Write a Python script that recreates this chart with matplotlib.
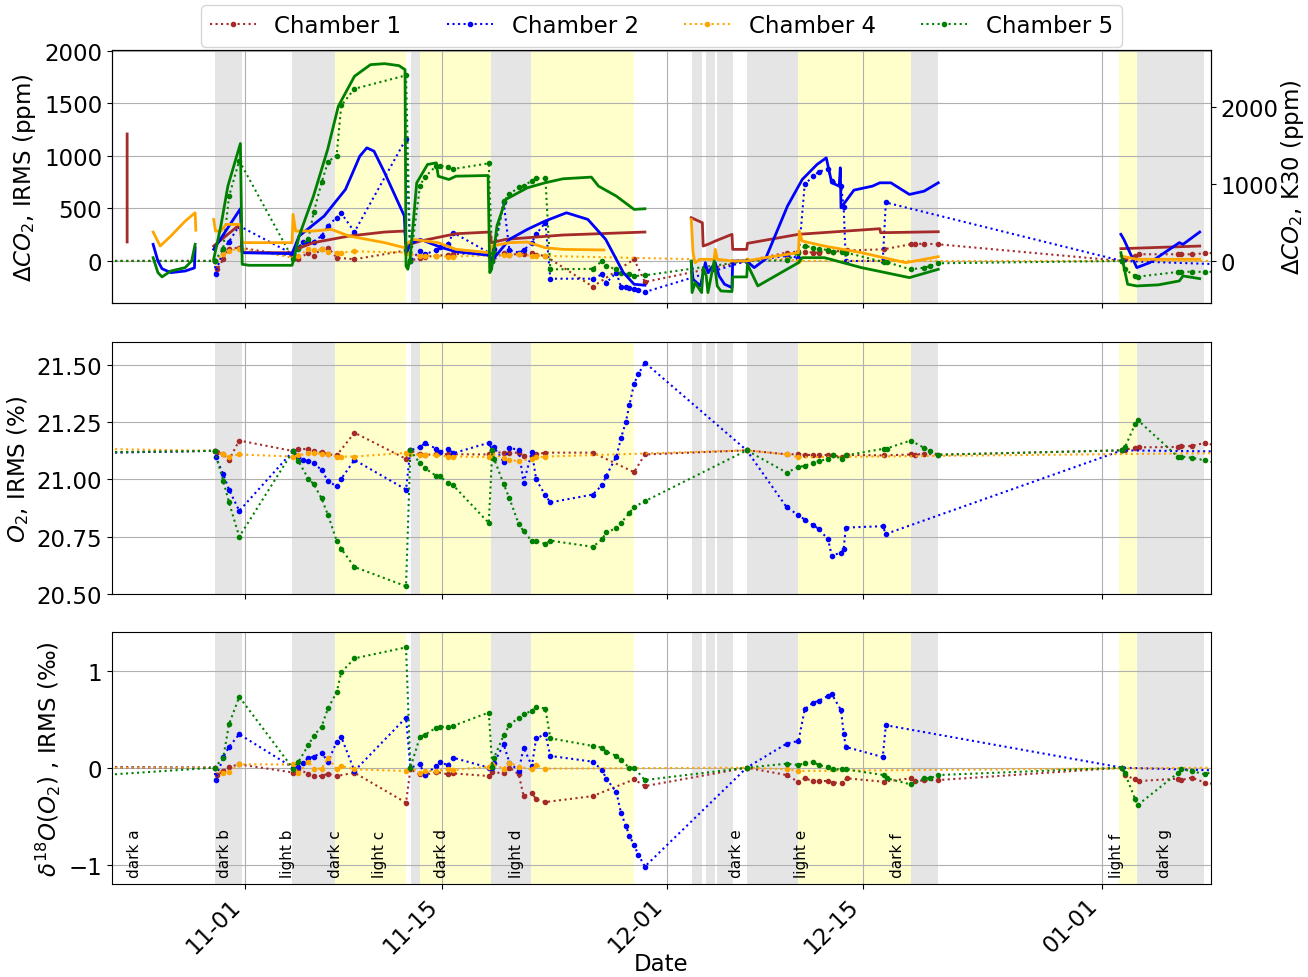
import numpy as np
import matplotlib
matplotlib.use("Agg")
import matplotlib.pyplot as plt
import matplotlib.dates as mdates
from datetime import datetime

nan = np.nan

# days counted from 2019-11-01
start = datetime(2019, 11, 1)

# ---- IRMS samples -------------------------------------------------------
# chamber 1
c1_days = [-12, -2.16, -1.98, -1.55, -1.14, -0.41,
           3.42, 3.80, 4.51, 4.89, 5.45, 5.91, 6.52, 7.79, 11.46,
           11.77, 12.45, 12.78, 13.62, 14.46, 14.81, 17.35,
           17.60, 18.41, 18.82, 19.48, 19.83, 20.42, 20.72, 21.38, 24.75, 27.69, 28.46,
           35.71, 38.55, 39.39, 39.84, 40.45, 40.84, 41.50, 41.82, 42.50, 42.82, 45.45, 47.37, 47.68, 48.34, 49.34,
           62.42, 62.63, 63.34, 63.61, 66.37, 66.63, 67.37, 68.34, 69.5]
c1_co2 = [0, 0, -80, 16, 118, 127,
          48, 16, 80, 48, 118, 127, 32, 16, 100,
          0, 32, 41, 48, 60, 64, 80,
          0, 80, 54, 70, 64, 80, 60, 48, -245, 16, -200,
          0, 80, 89, 89, 80, 80, 96, 90, 96, 100, 111, 159, 160, 165, 159,
          0, 16, 48, 64, 64, 64, 64, 73, 80]
c1_o2 = [21.115, 21.125, 21.12, 21.109, 21.085, 21.17,
         21.124, 21.133, 21.133, 21.125, 21.118, 21.11, 21.105, 21.204, 21.09,
         21.127, 21.109, 21.108, 21.109, 21.11, 21.11, 21.109,
         21.124, 21.114, 21.117, 21.117, 21.103, 21.103, 21.11, 21.117, 21.117, 21.032, 21.109,
         21.127, 21.11, 21.11, 21.107, 21.107, 21.107, 21.107, 21.105, 21.1, 21.107, 21.105, 21.109, 21.108, 21.112, 21.108,
         21.127, 21.13, 21.138, 21.14, 21.142, 21.144, 21.146, 21.16, 21.14]
c1_d18o = [0.01, 0, -0.079, -0.034, 0.007, 0.034,
           -0.05, -0.017, -0.062, -0.086, -0.086, -0.062, -0.086, -0.052, -0.362,
           -0.017, -0.069, -0.076, -0.045, -0.069, -0.059, -0.086,
           -0.045, -0.059, 0.0, -0.069, -0.293, -0.259, -0.328, -0.355, -0.293, -0.121, -0.19,
           0, -0.076, -0.148, -0.110, -0.138, -0.138, -0.138, -0.155, -0.155, -0.110, -0.145, -0.110, -0.138, -0.131, -0.128,
           0, -0.076, -0.121, -0.138, -0.114, -0.128, -0.103, -0.155, -0.18]

# chamber 2
c2_days = [-12, -2.16, -2.10, -1.55, -1.14, -0.41,
           3.42, 3.80, 4.11, 4.51, 4.89, 5.45, 5.91, 6.52, 6.85, 7.79, 11.46,
           11.77, 12.45, 12.78, 13.62, 13.87, 14.46, 14.81, 17.35,
           17.60, 17.73, 18.41, 18.82, 19.48, 19.83, 20.42, 20.72, 21.38, 21.73, 24.75, 25.41, 25.72, 26.43,
           26.76, 27.10, 27.36, 27.69, 28.00, 28.46,
           35.71, 38.55, 39.39, 39.84, 40.45, 40.84, 41.50, 41.76, 42.42, 42.61, 42.76, 45.39, 45.61,
           62.42, 69.5]
c2_co2 = [0, 0, -121, 111, 185, 334,
          64, 127, 180, 185, 185, 239, 334, 414, 455, 277, 1162,
          0, 96, 64, 102, 130, 159, 271, 80,
          0, 111, 557, 102, 80, 102, 175, 255, 366, -169, -169, -127, -207, -111,
          -245, -250, -255, -264, -275, -296,
          0, 48, 32, 733, 806, 850, 876, 764, 717, 510, 0, 0, 557,
          0, -32]
c2_o2 = [21.115, 21.125, 21.10, 21.022, 20.956, 20.863,
         21.124, 21.10, 21.083, 21.08, 21.073, 21.04, 20.993, 20.97, 21.003, 21.085, 20.956,
         21.127, 21.141, 21.157, 21.135, 21.12, 21.135, 21.114, 21.16,
         21.127, 21.14, 21.077, 21.137, 21.13, 20.985, 21.12, 21.0, 20.93, 20.90, 20.934, 20.975, 21.017, 21.10,
         21.18, 21.25, 21.325, 21.418, 21.46, 21.51,
         21.127, 20.879, 20.844, 20.825, 20.80, 20.784, 20.738, 20.668, 20.68, 20.697, 20.79, 20.796, 20.762,
         21.127, 21.122]
c2_d18o = [0.0, 0, -0.128, 0.11, 0.214, 0.345,
           0, 0.01, 0.05, 0.097, 0.114, 0.155, 0.059, 0.266, 0.317, -0.034, 0.517,
           0, 0.034, -0.076, 0.017, 0.059, 0.024, 0.103, 0,
           0, 0.052, 0.241, 0.052, -0.034, 0.207, 0.017, 0.303, 0.345, 0.121, 0.062, -0.024, -0.114, -0.252,
           -0.466, -0.60, -0.70, -0.80, -0.90, -1.02,
           0, 0.248, 0.276, 0.603, 0.672, 0.69, 0.741, 0.759, 0.593, 0.352, 0.214, 0.11, 0.438,
           0, -0.03]

# chamber 4
c4_days = [-12, -2.16, -1.55, -1.14, -0.41,
           3.42, 3.80, 4.51, 4.89, 5.45, 5.91, 6.52, 6.85, 7.79, 11.46,
           11.77, 12.45, 12.78, 13.62, 14.46, 14.81, 17.35,
           17.60, 18.41, 18.82, 19.48, 20.42, 20.72, 21.38,
           35.71, 38.55, 39.39,
           69.5]
c4_co2 = [0, 0, 64, 96, 118,
          32, 50, 111, 100, 111, 90, 80, 80, 92, 80,
          64, 48, 50, 48, 41, 41, 54,
          54, 54, 54, 64, 48, 50, 48,
          6, 16, 0,
          0]
c4_o2 = [21.135, 21.125, 21.109, 21.10, 21.109,
         21.10, 21.105, 21.114, 21.114, 21.112, 21.112, 21.10, 21.10, 21.10, 21.116,
         21.109, 21.108, 21.108, 21.106, 21.10, 21.10, 21.098,
         21.109, 21.095, 21.085, 21.08, 21.091, 21.097, 21.1,
         21.127, 21.109, 21.097,
         21.115]
c4_d18o = [0.0, 0, -0.059, -0.041, 0.034,
           0.034, -0.059, 0.059, -0.01, -0.01, 0.10, -0.017, 0.017, -0.017, -0.034,
           0, -0.052, -0.034, -0.034, -0.017, -0.024, 0.01,
           0.034, -0.01, 0.052, 0.01, -0.017, 0.024, -0.01,
           0, -0.017, -0.034,
           0.0]

# chamber 5
c5_days = [-12, -2.16, -1.55, -1.14, -0.41,
           3.42, 3.80, 4.51, 4.89, 5.45, 5.91, 6.52, 6.85, 7.79, 11.46,
           11.77, 12.45, 12.78, 13.62, 13.87, 14.46, 14.81, 17.35,
           17.60, 17.73, 18.41, 18.82, 19.48, 19.83, 20.42, 20.72, 21.38, 21.73, 24.75, 25.41, 25.72, 26.43,
           26.76, 27.36, 27.69, 28.46,
           35.71, 38.55, 39.39, 39.84, 40.45, 40.84, 41.50, 41.82, 42.50, 42.76, 45.45, 45.66, 47.37, 48.34,
           48.74, 49.34,
           62.42, 62.63, 63.34, 63.53, 66.37, 66.63, 67.37, 68.34, 69.2]
c5_co2 = [0, 0, 118, 615, 955,
          16, 118, 213, 462, 748, 946, 1003, 1481, 1640, 1768,
          0, 717, 796, 908, 905, 898, 876, 930,
          0, 80, 567, 637, 700, 717, 764, 787, 787, -80, -75, 0, -48, -80,
          -111, -127, -143, -137,
          0, 6, 80, 143, 127, 118, 102, 90, 85, 80, -10, -10, -80, -64,
          -48, -22,
          0, -80, -143, -150, -105, -105, -102, -105, -100]
c5_o2 = [21.117, 21.125, 20.994, 20.90, 20.75,
         21.124, 21.08, 21.003, 20.98, 20.917, 20.844, 20.733, 20.697, 20.618, 20.534,
         21.127, 21.07, 21.05, 21.015, 21.013, 20.985, 20.975, 20.81,
         21.127, 21.09, 20.98, 20.917, 20.806, 20.774, 20.73, 20.73, 20.719, 20.733, 20.706, 20.738, 20.771, 20.786,
         20.81, 20.854, 20.88, 20.905,
         21.127, 21.03, 21.054, 21.06, 21.073, 21.08, 21.09, 21.105, 21.09, 21.105, 21.134, 21.135, 21.17, 21.138,
         21.124, 21.108,
         21.127, 21.14, 21.24, 21.26, 21.10, 21.10, 21.095, 21.083, 21.07]
c5_d18o = [-0.094, 0, 0.103, 0.448, 0.731,
           -0.01, 0.059, 0.234, 0.328, 0.424, 0.614, 0.776, 0.983, 1.128, 1.241,
           0, 0.317, 0.338, 0.414, 0.42, 0.424, 0.431, 0.569,
           0.01, 0.103, 0.334, 0.438, 0.517, 0.552, 0.586, 0.628, 0.61, 0.303, 0.224, 0.207, 0.166, 0.121,
           0.076, 0.0, 0.0, -0.128,
           0, 0.041, 0.028, 0.045, 0.062, 0.024, 0.01, -0.017, -0.017, -0.017, -0.076, -0.11, -0.172, -0.110,
           -0.110, -0.076,
           0, -0.059, -0.32, -0.386, -0.059, -0.017, -0.034, -0.069, -0.02]

# ---- K30 sensors (nan = gap) --------------------------------------------
k1_days = [-8.39, -8.39, nan,
           -2.23, -1.2, -0.33, -0.20, 3.35, 3.47, 4.87, 7.41, 9.94, 11.39, 11.46, 11.72, 12.48, 15.01,
           17.42, 17.55, 18.56, 20.09, 22.62, 25.16, 28.46, nan,
           31.76, 32.55, 32.61, 33.0, 33.47, 34.66, 34.71, 35.71, 35.76, 39.39, 45.18, 45.24, 49.34, nan,
           62.34, 67.95]
k1_co2 = [1649, 247, nan,
          194, 350, 480, 108, 108, 140, 238, 324, 376, 389, 170, 216, 259, 354,
          376, 238, 281, 302, 337, 354, 376, nan,
          562, 497, 194, 220, 259, 346, 151, 151, 229, 346, 419, 367, 380, nan,
          160, 194]

k2_days = [-6.54, -6.2, -5.91, -5.28, -4.26, -3.6, -3.55, nan,
           -2.23, -0.33, -0.20, 3.35, 3.85, 5.63, 7.15, 8.17, 8.67, 9.18, 9.94, 11.34, 11.46, 11.84,
           12.48, 14.00, 15.01, 17.42, 17.55, 18.82, 20.09, 21.35, 22.88, 24.40, 25.67, 26.93, 27.69, 28.46, nan,
           31.76, 31.89, 32.42, 32.76, 32.95, 33.47, 33.74, 34.13, 34.66, 34.71, 35.71, 36.24, 37.03, 38.61,
           39.66, 40.71, 41.37, 41.76, 42.29, 42.37, 42.42, 43.34, 44.66, 45.18, 45.97, 47.29, 48.34, 49.34, nan,
           62.34, 62.55, 63.47, 64.39, 66.50, 66.76, 67.95]
k2_co2 = [216, 0, -100, -151, -130, -90, 173, nan,
          151, 678, 108, 95, 324, 583, 929, 1361, 1469, 1426, 1145, 583, 108, 229,
          281, 173, 121, 73, 0, 281, 410, 518, 626, 540, 281, -151, -302, -315, nan,
          -9, -238, -324, -22, -151, -22, -194, -302, -346, 0, 0, -86, 22, 713,
          1058, 1253, 1339, 1015, 972, 1210, 691, 920, 972, 1015, 1015, 864, 907, 1015, nan,
          346, 281, -86, -22, 238, 216, 376]

k4_days = [-6.54, -6.04, -5.28, -4.26, -3.55, -3.50, nan,
           -2.23, -2.10, -1.72, -1.34, -0.33, -0.20, 3.35, 3.42, 3.60, 4.87, 6.14, 7.41, 9.94, 11.34, 11.46,
           11.97, 13.75, 15.01, 17.42, 17.55, 18.82, 20.09, 21.35, 22.62, 25.54, nan,
           31.76, 31.89, 32.03, 32.42, 33.39, 33.47, 33.61, 34.66, 35.71, 37.03, 38.61, 39.39, 39.45, 39.66,
           41.24, 43.87, 47.03, 49.34, nan,
           62.34, 63.47, 67.95]
k4_co2 = [376, 194, 324, 518, 626, 400, nan,
          540, 389, 389, 475, 475, 238, 238, 605, 389, 389, 410, 324, 238, 173, 216,
          281, 238, 151, 108, 194, 238, 246, 173, 151, 143, nan,
          540, 108, -22, 22, 22, 151, 22, 0, 0, 43, 86, 108, 389, 259,
          194, 108, -22, 56, nan,
          65, 22, 22]

k5_days = [-6.54, -6.2, -5.91, -5.28, -4.26, -3.8, -3.55, nan,
           -2.23, -1.72, -1.22, -0.33, -0.20, 0.30, 3.35, 3.47, 3.85, 4.87, 5.88, 6.64, 7.79, 8.93, 9.94,
           10.96, 11.39, 11.46, 11.59, 11.77, 12.22, 12.99, 13.62, 13.75, 14.51, 15.01, 17.30, 17.42, 17.55,
           17.93, 18.56, 20.09, 21.35, 22.62, 24.65, 25.16, 26.43, 27.69, 28.46, nan,
           31.76, 31.82, 32.03, 32.50, 32.61, 32.82, 32.95, 33.39, 33.61, 33.87, 34.66, 34.71, 35.71, 35.76,
           36.50, 39.39, 39.66, 41.24, 43.87, 47.29, 49.34, nan,
           62.34, 62.82, 63.47, 65.0, 66.50, 66.76, 67.95]
k5_co2 = [43, -150, -207, -130, -86, 0, 216, nan,
          22, 454, 972, 1525, -43, -56, -56, 22, 324, 842, 1447, 2009, 2398, 2549, 2562,
          2536, 2484, -65, -108, 65, 1015, 1253, 1274, 1101, 1058, 1101, 1110, -151, -108,
          454, 799, 950, 1015, 1067, 1089, 972, 842, 670, 678, nan,
          0, -410, -281, -410, -86, -186, -410, 0, -324, -389, -397, -207, -207, -43,
          -324, -22, 43, 43, -86, -216, -108, nan,
          108, -302, -324, -310, -259, -194, -229]

# ---- light / dark periods -----------------------------------------------
dark_start = [-2.16, 3.37, 11.84, 17.50, 31.79, 32.84, 33.61, 35.76, 47.37, 63.47]
dark_end = [-0.20, 6.39, 12.43, 20.39, 32.55, 33.45, 34.74, 39.39, 49.29, 68.26]
light_start = [6.39, 12.43, 20.39, 39.39, 62.24]
light_end = [11.46, 17.50, 27.69, 47.37, 63.47]

period_names = ["dark a", "dark b", "light b", "dark c", "light c", "dark d", "light d",
                "dark e", "light e", "dark f", "light f", "dark g"]
period_days = [-7.89, -1.47, 3.04, 6.47, 9.56, 14.0, 19.33, 34.97, 39.58, 46.42, 62.03, 65.45]

names = ["Chamber 1", "Chamber 2", "Chamber 4", "Chamber 5"]
colors = ["brown", "blue", "orange", "green"]

t0 = mdates.date2num(start)


def tx(d):
    return t0 + np.asarray(d, dtype=float)


plt.rcParams["font.size"] = 16.5

fig = plt.figure(figsize=(13.08, 9.78), dpi=100)
ax1 = fig.add_axes([0.0856, 0.6892, 0.8402, 0.2587])
ax2 = fig.add_axes([0.0856, 0.3916, 0.8402, 0.2577], sharex=ax1)
ax3 = fig.add_axes([0.0856, 0.0951, 0.8402, 0.2577], sharex=ax1)
ax1b = ax1.twinx()

for ax in (ax1, ax2, ax3):
    for a, b in zip(dark_start, dark_end):
        ax.axvspan(tx(a), tx(b), color="grey", alpha=0.2, lw=0)
    for a, b in zip(light_start, light_end):
        ax.axvspan(tx(a), tx(b), color="yellow", alpha=0.2, lw=0)
    ax.grid(True)

irms = [(c1_days, c1_co2, c1_o2, c1_d18o),
        (c2_days, c2_co2, c2_o2, c2_d18o),
        (c4_days, c4_co2, c4_o2, c4_d18o),
        (c5_days, c5_co2, c5_o2, c5_d18o)]
k30 = [(k1_days, k1_co2), (k2_days, k2_co2), (k4_days, k4_co2), (k5_days, k5_co2)]

for (d, co2, o2, d18), (kd, kc), c, n in zip(irms, k30, colors, names):
    sty = dict(color=c, ls=":", lw=1.5, marker="o", ms=3)
    ax1.plot(tx(d), co2, label=n, **sty)
    ax2.plot(tx(d), o2, **sty)
    ax3.plot(tx(d), d18, **sty)
    ax1b.plot(tx(kd), kc, color=c, lw=2)

for n, d in zip(period_names, period_days):
    ax3.text(tx(d), -1.13, n, rotation=90, ha="center", va="bottom", fontsize=11)

ax1.set_ylim(-400, 2010)
ax1b.set_ylim(-545, 2740)
ax1b.set_yticks([0, 1000, 2000])
ax2.set_ylim(20.5, 21.6)
ax2.set_yticks([20.5, 20.75, 21.0, 21.25, 21.5])
ax2.yaxis.set_major_formatter(matplotlib.ticker.FormatStrFormatter("%.2f"))
ax3.set_ylim(-1.2, 1.4)
ax3.set_yticks([-1, 0, 1])

ax1.set_xlim(tx(-9.47), tx(68.75))
ax3.xaxis.set_major_locator(mdates.DayLocator(bymonthday=[1, 15]))
ax3.xaxis.set_major_formatter(mdates.DateFormatter("%m-%d"))
ax1.tick_params(labelbottom=False)
ax2.tick_params(labelbottom=False)
plt.setp(ax3.get_xticklabels(), rotation=45, ha="right")

ax1.set_ylabel(r"$\Delta CO_2$, IRMS (ppm)")
ax1b.set_ylabel(r"$\Delta CO_2$, K30 (ppm)", labelpad=0)
ax2.set_ylabel(r"$O_2$, IRMS (%)")
ax3.set_ylabel(r"$\delta^{18}O(O_2)$ , IRMS (‰)")
ax3.set_xlabel("Date")
ax3.xaxis.set_label_coords(0.5, -0.27)

ax1.legend(loc="lower center", bbox_to_anchor=(0.5, 1.0), ncol=4, borderaxespad=0.15)

fig.savefig("out.png", dpi=100)
